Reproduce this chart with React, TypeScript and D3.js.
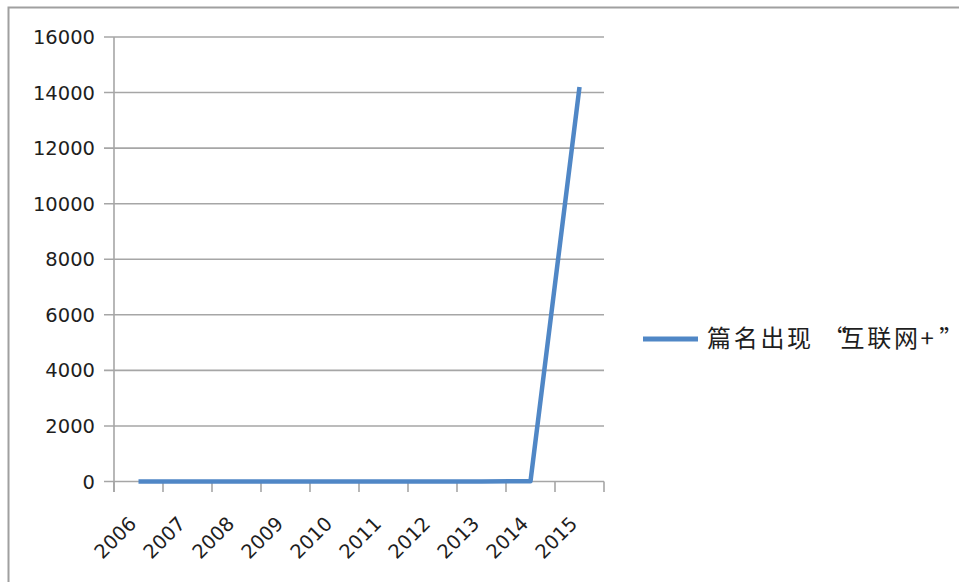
import React from "react";
import * as d3 from "d3";

const years = ["2006", "2007", "2008", "2009", "2010", "2011", "2012", "2013", "2014", "2015"];
const counts = [0, 0, 0, 0, 0, 0, 0, 0, 10, 14200];
const yTicks = [0, 2000, 4000, 6000, 8000, 10000, 12000, 14000, 16000];
const seriesName = "篇名出现“互联网+”";

const W = 959;
const H = 582;

// layout the legend label in full-width cells, as in the reference (CJK full-width quotes)
function legendGlyphs(text: string, x0: number, cell: number) {
  const out: { ch: string; x: number }[] = [];
  let cx = x0;
  for (const ch of Array.from(text)) {
    if (ch === "“") {
      out.push({ ch, x: cx + cell * 0.34 });
      cx += cell;
    } else if (ch === "”") {
      out.push({ ch, x: cx + 4 });
      cx += cell;
    } else if (ch === "+") {
      out.push({ ch, x: cx });
      cx += cell * 0.55;
    } else {
      out.push({ ch, x: cx });
      cx += cell;
    }
  }
  return out;
}

export default function App() {
  const x = d3.scaleBand<string>().domain(years).range([114, 604]).paddingInner(0).paddingOuter(0);
  const y = d3.scaleLinear().domain([0, 16000]).range([481.5, 37]);
  const line = d3
    .line<number>()
    .x((_, i) => (x(years[i]) as number) + x.bandwidth() / 2)
    .y((d) => y(d));
  const gridColor = "#a6a6a6";
  const textColor = "#1e1e1e";
  const tickPositions = years.map((yr) => x(yr) as number).concat([604]);
  const glyphs = legendGlyphs(seriesName, 707, 26.7);

  return (
    <svg
      width={W}
      height={H}
      style={{ position: "absolute", left: 0, top: 0, background: "#fff" }}
    >
      <rect x={0} y={0} width={W} height={H} fill="#fff" />
      {/* outer border */}
      <path d={`M8.5,${H} V7.5 H${W}`} fill="none" stroke="#a0a0a0" strokeWidth={2} />

      {/* gridlines + y ticks */}
      {yTicks.map((t) => (
        <g key={t}>
          <line x1={104} x2={604} y1={y(t)} y2={y(t)} stroke={gridColor} strokeWidth={1.6} />
          <text
            x={95}
            y={y(t)}
            dy="0.36em"
            textAnchor="end"
            fontFamily="'DejaVu Sans', sans-serif"
            fontSize={19.5}
            fill={textColor}
          >
            {t}
          </text>
        </g>
      ))}

      {/* y axis */}
      <line x1={114} x2={114} y1={37} y2={492} stroke={gridColor} strokeWidth={1.6} />

      {/* x ticks */}
      {tickPositions.map((px, i) => (
        <line key={i} x1={px} x2={px} y1={481.5} y2={492} stroke={gridColor} strokeWidth={1.6} />
      ))}

      {/* x labels */}
      {years.map((yr) => {
        const cx = (x(yr) as number) + x.bandwidth() / 2;
        return (
          <text
            key={yr}
            transform={`translate(${cx - 1},${525}) rotate(-45)`}
            textAnchor="end"
            fontFamily="'DejaVu Sans', sans-serif"
            fontSize={19.5}
            fill={textColor}
          >
            {yr}
          </text>
        );
      })}

      {/* series line */}
      <path
        d={line(counts) || ""}
        fill="none"
        stroke="#5087c6"
        strokeWidth={4.5}
        strokeLinejoin="round"
      />

      {/* legend */}
      <line x1={643} x2={698} y1={339} y2={339} stroke="#5087c6" strokeWidth={5} />
      <text
        y={338}
        dy="0.36em"
        fontFamily="'Noto Sans CJK SC', sans-serif"
        fontSize={24}
        fill={textColor}
      >
        {glyphs.map((g, i) => (
          <tspan key={i} x={g.x}>
            {g.ch}
          </tspan>
        ))}
      </text>
    </svg>
  );
}
